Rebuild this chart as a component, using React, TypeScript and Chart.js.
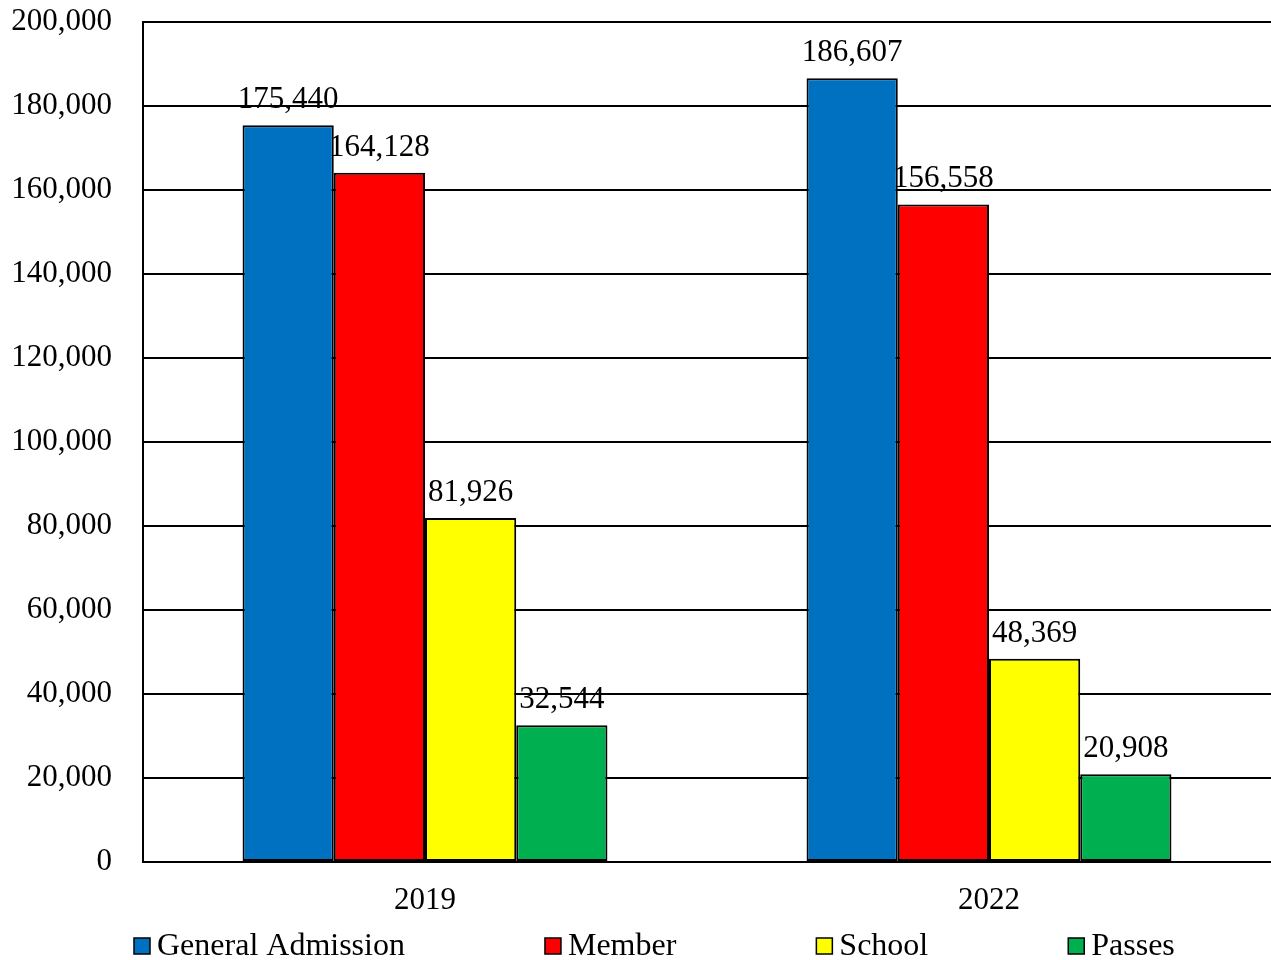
import React, { useEffect, useRef } from "react";
import { Chart, registerables } from "chart.js";

Chart.register(...registerables);

const categories = ["2019", "2022"];
const seriesNames = ["General Admission", "Member", "School", "Passes"];
const generalAdmission = [175440, 186607];
const member = [164128, 156558];
const school = [81926, 48369];
const passes = [32544, 20908];
const seriesColors = ["#0070C0", "#FF0000", "#FFFF00", "#00B050"];
const yMax = 200000;
const yStep = 20000;

const FONT_FAMILY = '"Liberation Serif", "Times New Roman", serif';
const FONT_SIZE = 31;
const LEGEND_FONT_SIZE = 32;

const fmt = (v: number) => v.toLocaleString("en-US");

const valueLabelPlugin = {
  id: "valueLabels",
  afterDatasetsDraw(chart: any) {
    const ctx = chart.ctx;
    ctx.save();
    ctx.font = `${FONT_SIZE}px ${FONT_FAMILY}`;
    ctx.fillStyle = "#000";
    ctx.textAlign = "center";
    ctx.textBaseline = "alphabetic";
    chart.data.datasets.forEach((ds: any, di: number) => {
      const meta = chart.getDatasetMeta(di);
      meta.data.forEach((el: any, i: number) => {
        ctx.fillText(fmt(ds.data[i]), el.x, el.y - 17);
      });
    });
    ctx.restore();
  },
};

const bottomLegendPlugin = {
  id: "bottomLegend",
  afterDraw(chart: any) {
    const ctx = chart.ctx;
    ctx.save();
    ctx.font = `${LEGEND_FONT_SIZE}px ${FONT_FAMILY}`;
    ctx.textBaseline = "middle";
    ctx.textAlign = "left";
    const box = 16;
    const cy = 946;
    let x = chart.chartArea.left - 9;
    chart.data.datasets.forEach((ds: any) => {
      ctx.fillStyle = ds.backgroundColor;
      ctx.fillRect(x, cy - box / 2, box, box);
      ctx.strokeStyle = "#000";
      ctx.lineWidth = 1.5;
      ctx.strokeRect(x, cy - box / 2, box, box);
      ctx.fillStyle = "#000";
      const tx = x + box + 7;
      ctx.fillText(ds.label, tx, cy + 1);
      x = tx + ctx.measureText(ds.label).width + 140;
    });
    ctx.restore();
  },
};

export default function App() {
  const canvasRef = useRef<HTMLCanvasElement | null>(null);

  useEffect(() => {
    if (!canvasRef.current) return;
    const values = [generalAdmission, member, school, passes];
    const chart = new Chart(canvasRef.current, {
      type: "bar",
      data: {
        labels: categories,
        datasets: seriesNames.map((name, i) => ({
          label: name,
          data: values[i],
          backgroundColor: seriesColors[i],
          borderColor: "#000",
          borderWidth: 2,
          borderSkipped: false,
          categoryPercentage: 0.647,
          barPercentage: 1,
        })),
      },
      options: {
        responsive: false,
        animation: false,
        layout: { padding: { top: 22, right: 0, bottom: 42, left: 0 } },
        plugins: {
          legend: { display: false },
          tooltip: { enabled: false },
        },
        scales: {
          x: {
            grid: { display: false, drawTicks: false },
            border: { display: true, color: "#000", width: 2 },
            ticks: {
              color: "#000",
              padding: 20,
              font: { family: FONT_FAMILY, size: FONT_SIZE },
            },
            afterFit: (scale: any) => {
              scale.height = 56;
            },
          },
          y: {
            min: 0,
            max: yMax,
            grid: {
              color: "#000",
              lineWidth: 2,
              drawTicks: true,
              tickLength: 31,
              tickColor: "rgba(0,0,0,0)",
            },
            border: { display: true, color: "#000", width: 2 },
            ticks: {
              stepSize: yStep,
              color: "#000",
              padding: 0,
              font: { family: FONT_FAMILY, size: FONT_SIZE },
              callback: (v: any) => fmt(Number(v)),
            },
            afterFit: (scale: any) => {
              scale.width = 143;
            },
          },
        },
      },
      plugins: [valueLabelPlugin, bottomLegendPlugin],
    });
    return () => chart.destroy();
  }, []);

  return (
    <div style={{ position: "absolute", left: 0, top: 0, width: 1271, height: 960, background: "#fff" }}>
      <canvas ref={canvasRef} width={1271} height={960} style={{ display: "block" }} />
    </div>
  );
}
